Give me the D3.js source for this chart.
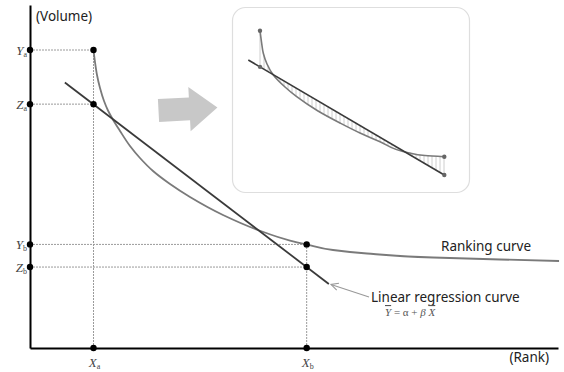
<!DOCTYPE html>
<html><head><meta charset="utf-8">
<script src="https://cdn.jsdelivr.net/npm/d3@7"></script>
<style>
html,body{margin:0;padding:0;background:#fff;}
svg{display:block;}
</style></head>
<body>
<svg id="c" width="564" height="372"></svg>
<script>
// ---------- data ----------
const rankX   = [12.03,12.31,12.69,13.26,14.02,14.77,15.53,17.05,18.94,20.83,23.30,26.52,30.30,36.55,43.18,49.24,52.40,57.39,63.83,76.33,89.02,100.2];
const volumeY = [86.88,83.38,79.59,75.80,72.01,69.24,67.06,63.27,58.89,55.39,51.60,47.81,44.02,38.78,34.40,31.34,30.20,28.57,27.55,26.38,25.80,25.36];
const regX = [6.6, 56.6];
const regY = [77.4, 18.66];
const xMarkNames = ['X','X'];
const xMarkSubs  = ['a','b'];
const xMarkVals  = [12.03, 52.40];
const yMarkNames = ['Y','Z','Y','Z'];
const yMarkSubs  = ['a','a','b','b'];
const yMarkVals  = [86.88, 71.1, 30.2, 23.6];
const yMarkAt    = [0, 0, 1, 1]; // index into xMarkVals
// inset (zoomed schematic)
const insetCurveX = [5,5.75,6.65,8.5,11.65,17.5,23.35,34,45,55,65,79.15,87.5,97.15];
const insetCurveY = [99.53,92,84.47,77.33,70,62,55.53,46,38,31.33,25.53,18.2,16.33,15.53];
const insetLineX = [-0.85, 97.15];
const insetLineY = [80, 3.33];
const texts = {volume:'(Volume)', rank:'(Rank)', ranking:'Ranking curve', linear:'Linear regression curve'};

// ---------- drawing ----------
const svg = d3.select('#c');
const x = d3.scaleLinear().domain([0,100]).range([30,558]);
const y = d3.scaleLinear().domain([0,100]).range([348,5]);

// inset box
const ix = d3.scaleLinear().domain([0,100]).range([250,450]);
const iy = d3.scaleLinear().domain([0,100]).range([180,30]);
svg.append('rect').attr('x',232.5).attr('y',7.5).attr('width',237).attr('height',185)
  .attr('rx',13).attr('fill','#fff').attr('stroke','#dedede').attr('stroke-width',1.2);

// hatching between inset curve and line
function interp(xs, ys, v){
  for(let i=0;i<xs.length-1;i++){
    if(v>=xs[i] && v<=xs[i+1]){const t=(v-xs[i])/(xs[i+1]-xs[i]);return ys[i]+t*(ys[i+1]-ys[i]);}
  }
  return ys[ys.length-1];
}
const hatch = d3.range(insetCurveX[0], insetCurveX[insetCurveX.length-1]+0.01, 2);
svg.append('g').selectAll('line').data(hatch).join('line')
  .attr('x1',d=>ix(d)).attr('x2',d=>ix(d))
  .attr('y1',d=>iy(interp(insetCurveX,insetCurveY,d)))
  .attr('y2',d=>iy(interp(insetLineX,insetLineY,d)))
  .attr('stroke','#c2c2c2').attr('stroke-width',0.8);

const iCurve = insetCurveX.map((v,i)=>[v,insetCurveY[i]]);
svg.append('path').datum(iCurve)
  .attr('d', d3.line().x(d=>ix(d[0])).y(d=>iy(d[1])).curve(d3.curveMonotoneY))
  .attr('fill','none').attr('stroke','#7a7a7a').attr('stroke-width',1.6);
svg.append('line')
  .attr('x1',ix(insetLineX[0])).attr('y1',iy(insetLineY[0]))
  .attr('x2',ix(insetLineX[1])).attr('y2',iy(insetLineY[1]))
  .attr('stroke','#3a3a3a').attr('stroke-width',1.6);
const iDots = [
  [insetCurveX[0], insetCurveY[0]],
  [insetCurveX[0], interp(insetLineX,insetLineY,insetCurveX[0])],
  [insetCurveX[insetCurveX.length-1], insetCurveY[insetCurveY.length-1]],
  [insetLineX[1], insetLineY[1]]
];
svg.append('g').selectAll('circle').data(iDots).join('circle')
  .attr('cx',d=>ix(d[0])).attr('cy',d=>iy(d[1])).attr('r',2.2).attr('fill','#666');

// block arrow (decorative)
const arrowShape = [[0,-11.5],[31,-11.5],[31,-22],[59,0],[31,22.5],[31,11.5],[0,11.5]];
svg.append('polygon')
  .attr('points', arrowShape.map(p=>p.join(',')).join(' '))
  .attr('transform','translate(158.5,110.5) rotate(-3)')
  .attr('fill','#c8c8c8');

// guide lines
const guide = svg.append('g').attr('stroke','#9a9a9a').attr('stroke-width',1).attr('stroke-dasharray','2,1');
yMarkVals.forEach((v,i)=>{
  guide.append('line').attr('x1',x(0)).attr('x2',x(xMarkVals[yMarkAt[i]])).attr('y1',y(v)).attr('y2',y(v));
});
xMarkVals.forEach((v,i)=>{
  const top = i===0 ? yMarkVals[0] : yMarkVals[2];
  guide.append('line').attr('x1',x(v)).attr('x2',x(v)).attr('y1',y(0)).attr('y2',y(top));
});

// axes
svg.append('g').attr('transform',`translate(${x(0)},0)`)
  .call(d3.axisLeft(y).tickValues([]).tickSizeOuter(0));
svg.append('g').attr('transform',`translate(0,${y(0)})`)
  .call(d3.axisBottom(x).tickValues([]).tickSizeOuter(0));
svg.selectAll('.domain').attr('stroke','#000').attr('stroke-width',2);

// ranking curve
const pts = rankX.map((v,i)=>[v,volumeY[i]]);
svg.append('path').datum(pts)
  .attr('d', d3.line().x(d=>x(d[0])).y(d=>y(d[1])).curve(d3.curveMonotoneY))
  .attr('fill','none').attr('stroke','#7a7a7a').attr('stroke-width',1.8);

// regression line
svg.append('line')
  .attr('x1',x(regX[0])).attr('y1',y(regY[0])).attr('x2',x(regX[1])).attr('y2',y(regY[1]))
  .attr('stroke','#3a3a3a').attr('stroke-width',1.8);

// dots
const dots = [];
yMarkVals.forEach((v,i)=>{ dots.push([0,v]); dots.push([xMarkVals[yMarkAt[i]], v]); });
xMarkVals.forEach(v=>dots.push([v,0]));
svg.append('g').selectAll('circle').data(dots).join('circle')
  .attr('cx',d=>x(d[0])).attr('cy',d=>y(d[1])).attr('r',3.2).attr('fill','#000');

// labels
const serif = "'Liberation Serif','DejaVu Serif',serif";
const sans = "'Noto Sans','Open Sans',sans-serif";
function mathLabel(tx, ty, name, sub, anchor){
  const t = svg.append('text').attr('x',tx).attr('y',ty).attr('text-anchor',anchor)
    .attr('font-family',serif).attr('font-style','italic').attr('font-size',13).attr('fill','#444');
  t.append('tspan').text(name);
  t.append('tspan').attr('font-size',8).attr('dy',2).attr('font-style','normal').text(sub);
}
yMarkVals.forEach((v,i)=> mathLabel(27, y(v)+4.5, yMarkNames[i], yMarkSubs[i], 'end'));
xMarkVals.forEach((v,i)=> mathLabel(x(v)+1, 367, xMarkNames[i], xMarkSubs[i], 'middle'));

svg.append('text').attr('x',36).attr('y',21).attr('font-family',sans).attr('font-size',13.5).attr('fill','#222').text(texts.volume);
svg.append('text').attr('x',549).attr('y',362).attr('text-anchor','end').attr('font-family',sans).attr('font-size',13.5).attr('fill','#222').text(texts.rank);
svg.append('text').attr('x',441).attr('y',251).attr('font-family',sans).attr('font-size',13.5).attr('fill','#222').text(texts.ranking);
svg.append('text').attr('x',371).attr('y',302).attr('font-family',sans).attr('font-size',13.5).attr('fill','#222').text(texts.linear);

// formula
const f = svg.append('text').attr('x',385).attr('y',316).attr('font-family',serif).attr('font-size',11).attr('fill','#555');
f.append('tspan').attr('font-style','italic').attr('text-decoration','overline').text('Y');
f.append('tspan').text(' = α + ');
f.append('tspan').attr('font-style','italic').text('β ');
f.append('tspan').attr('font-style','italic').attr('text-decoration','overline').text('X');

// pointer arrow
svg.append('defs').append('marker').attr('id','ah').attr('viewBox','0 0 10 10').attr('refX',9).attr('refY',5)
  .attr('markerWidth',9).attr('markerHeight',9).attr('orient','auto').attr('markerUnits','userSpaceOnUse')
  .append('path').attr('d','M1,1 L9,5 L1,9').attr('fill','none').attr('stroke','#999').attr('stroke-width',1.2);
svg.append('line').attr('x1',369).attr('y1',297).attr('x2',331).attr('y2',284.5)
  .attr('stroke','#999').attr('stroke-width',1.1).attr('marker-end','url(#ah)');
</script>
</body></html>
